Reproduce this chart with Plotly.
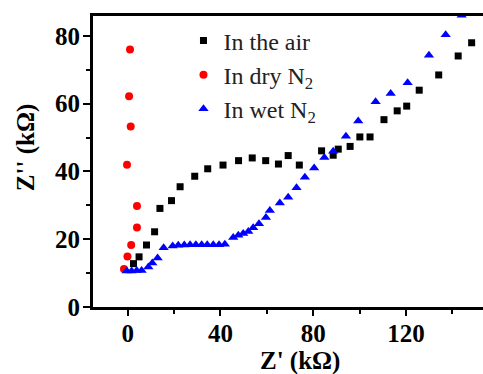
import plotly.graph_objects as go

# In the air (black squares)
air_x = [2.5, 4.9, 8.1, 11.6, 13.9, 18.9, 22.6, 28.9, 34.5, 41.1, 47.8, 53.7, 59.5, 65.0, 69.2,
         74.0, 83.6, 88.6, 90.8, 95.9, 100.1, 104.5, 110.5, 116.2, 120.3, 125.7, 134.1, 142.5, 148.3]
air_y = [12.8, 14.8, 18.3, 22.2, 29.1, 31.4, 35.5, 38.6, 40.8, 41.9, 43.2, 44.0, 43.2, 42.2, 44.7,
         41.9, 46.1, 44.8, 46.6, 47.4, 50.2, 50.2, 55.3, 57.9, 59.3, 64.0, 68.5, 74.1, 78.0]

# In dry N2 (red circles)
dry_x = [-1.6, -0.1, 1.5, 4.0, 4.0, -0.3, 1.3, 0.6, 1.0]
dry_y = [11.2, 14.9, 18.3, 23.5, 29.8, 42.0, 53.3, 62.2, 76.0]

# In wet N2 (blue triangles)
wet_x = [-0.4, 1.7, 3.9, 6.0, 8.9, 10.6, 12.9, 15.5, 19.4, 21.8, 24.4, 26.9, 29.4, 31.9, 34.3,
         36.9, 39.4, 41.9, 45.5, 47.7, 49.8, 52.0, 54.1, 56.6, 59.6, 61.3, 65.6, 69.2, 72.8,
         76.4, 80.4, 84.8, 88.6, 94.1, 99.4, 106.9, 113.4, 120.7, 129.9, 137.1, 144.0]
wet_y = [10.6, 10.6, 10.8, 10.8, 11.8, 13.0, 14.5, 17.5, 18.0, 18.2, 18.3, 18.4, 18.4, 18.4, 18.4,
         18.4, 18.4, 18.5, 20.5, 21.2, 21.7, 22.3, 23.4, 24.6, 26.4, 28.5, 30.7, 32.4, 35.2,
         38.3, 41.0, 44.1, 46.0, 50.4, 54.9, 60.6, 63.0, 66.2, 74.3, 80.4, 86.1]

x_ticks = [0, 40, 80, 120]
y_ticks = [0, 20, 40, 60, 80]
x_title = "Z' (kΩ)"
y_title = "Z'' (kΩ)"

SERIF = "Liberation Serif, Times New Roman, serif"

fig = go.Figure()
fig.add_trace(go.Scatter(x=air_x, y=air_y, mode="markers", name="In the air",
                         marker=dict(symbol="square", size=7, color="black")))
fig.add_trace(go.Scatter(x=dry_x, y=dry_y, mode="markers", name="In dry N<sub>2</sub>",
                         marker=dict(symbol="circle", size=8, color="#ff0000")))
fig.add_trace(go.Scatter(x=wet_x, y=wet_y, mode="markers", name="In wet N<sub>2</sub>",
                         marker=dict(symbol="triangle-up", size=9, color="#0000ff")))

tickfont = dict(family=SERIF, size=25, color="black", weight="bold")
titlefont = dict(family=SERIF, size=25, color="black", weight="bold")
fig.update_layout(
    width=483, height=374,
    margin=dict(l=93, r=0, t=16, b=67),
    paper_bgcolor="white", plot_bgcolor="white",
    font=dict(family=SERIF, color="black"),
    legend=dict(x=0.232, y=0.992, xanchor="left", yanchor="top",
                bgcolor="rgba(0,0,0,0)", font=dict(family=SERIF, size=24, color="#222"),
                itemwidth=30, tracegroupgap=0),
    xaxis=dict(range=[-14.96, 153.2], showgrid=False, zeroline=False, automargin=False,
               showline=True, linewidth=3, linecolor="black", mirror=True,
               tickmode="array", tickvals=x_ticks, ticktext=[str(v) for v in x_ticks],
               ticks="outside", ticklen=6, tickwidth=2, tickcolor="black",
               minor=dict(dtick=20, ticks="outside", ticklen=4, tickwidth=2, tickcolor="black"),
               tickfont=tickfont, ticklabelstandoff=-4),
    yaxis=dict(range=[0, 85.9], showgrid=False, zeroline=False, automargin=False,
               showline=True, linewidth=3, linecolor="black", mirror=False,
               tickmode="array", tickvals=y_ticks, ticktext=[str(v) for v in y_ticks],
               ticks="outside", ticklen=7, tickwidth=2, tickcolor="black",
               minor=dict(dtick=10, ticks="outside", ticklen=4, tickwidth=2, tickcolor="black"),
               tickfont=tickfont, ticklabelstandoff=-2),
)
fig.add_annotation(text=x_title, xref="paper", yref="paper", x=0.531, y=-0.185,
                   xanchor="center", yanchor="middle", showarrow=False, font=titlefont)
fig.add_annotation(text=y_title, xref="paper", yref="paper", x=-0.172, y=0.549,
                   xanchor="center", yanchor="middle", textangle=-90, showarrow=False, font=titlefont)

fig.write_html("out.html")
